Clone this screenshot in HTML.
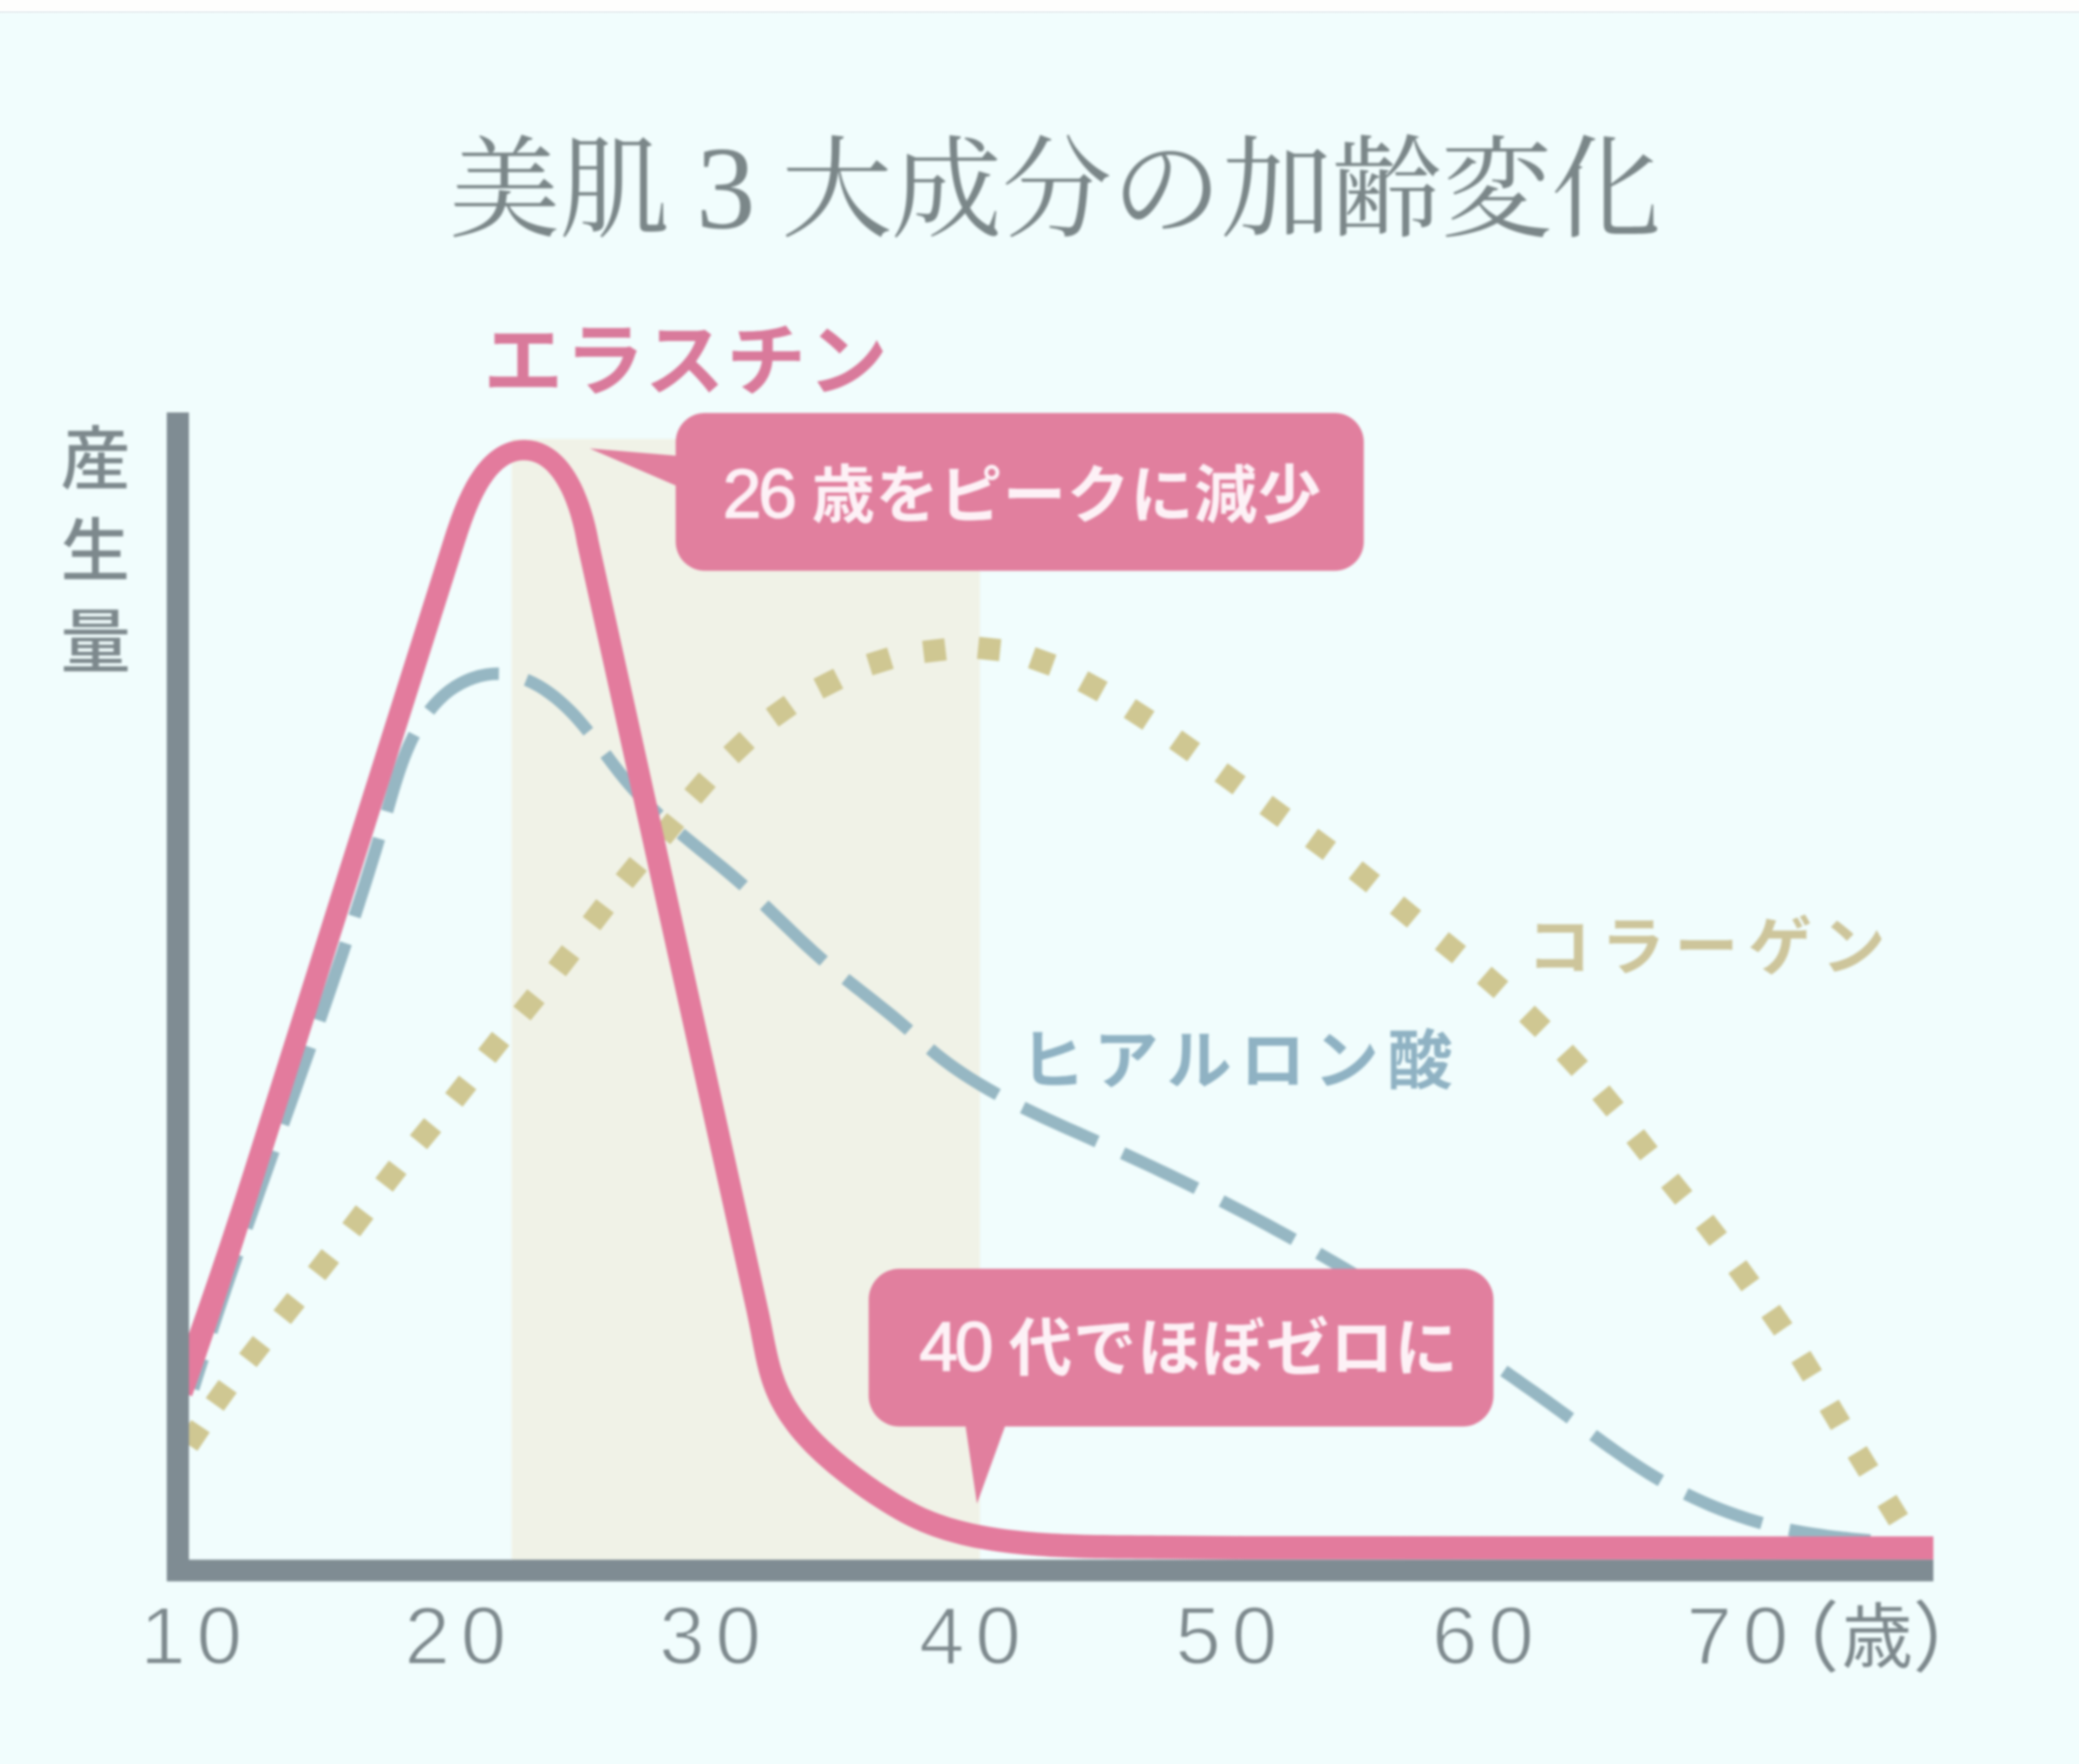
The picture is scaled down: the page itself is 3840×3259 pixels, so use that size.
<!DOCTYPE html>
<html lang="ja">
<head>
<meta charset="utf-8">
<title>美肌3大成分の加齢変化</title>
<style>
html,body{margin:0;padding:0;}
body{width:3840px;height:3259px;background:#f1fdfd;overflow:hidden;position:relative;font-family:"Liberation Sans","Noto Sans CJK JP",sans-serif;}
.topbar{position:absolute;left:0;top:0;width:3840px;height:20px;background:#fefefd;}
.topline{position:absolute;left:0;top:19px;width:3840px;height:7px;background:linear-gradient(to bottom,#fdfefe 0%,#e9eff1 45%,#f1fdfd 100%);}
#chart{position:absolute;left:0;top:0;width:3840px;height:3259px;filter:blur(2px);}
svg{position:absolute;left:0;top:0;}
.t{position:absolute;white-space:nowrap;line-height:1;}
.sans{font-family:"Liberation Sans","Noto Sans CJK JP",sans-serif;}
.serif{font-family:"Liberation Serif","Noto Serif CJK JP","Noto Serif CJK SC",serif;}
.big{font-size:1.07em;}
.num{font-weight:400;font-size:1.1em;letter-spacing:-6px;-webkit-text-stroke:2.5px #fdf1f6;}
.xl{color:#7d898d;font-size:151px;letter-spacing:20px;top:2946.0px;font-weight:400;-webkit-text-stroke:3px #f1fdfd;}
</style>
</head>
<body>
<div class="topbar"></div><div class="topline"></div>
<div id="chart">
<svg width="3840" height="3259" viewBox="0 0 3840 3259">
  <rect x="945" y="811" width="865" height="2075" fill="#f0f2e7"/>
  <path d="M356.9 2565.7C358.2 2561.7 361.9 2549.7 364.4 2541.7C366.9 2533.7 369.4 2525.7 372.0 2517.8C374.5 2509.8 377.0 2501.8 379.6 2493.8C382.2 2485.9 384.7 2477.9 387.3 2470.0C389.9 2462.0 392.5 2454.0 395.1 2446.1C397.7 2438.1 400.3 2430.2 403.0 2422.2C405.6 2414.3 408.3 2406.4 410.9 2398.4C413.6 2390.5 416.2 2382.5 418.9 2374.6C421.6 2366.7 424.3 2358.8 427.0 2350.8C429.7 2342.9 432.4 2335.0 435.1 2327.1C437.8 2319.2 440.5 2311.2 443.2 2303.3C446.0 2295.4 448.7 2287.5 451.4 2279.6C454.2 2271.7 456.9 2263.8 459.7 2255.9C462.4 2248.0 465.2 2240.1 468.0 2232.2C470.7 2224.3 473.5 2216.4 476.3 2208.5C479.0 2200.6 481.8 2192.7 484.6 2184.8C487.4 2176.9 490.2 2169.0 493.0 2161.1C495.7 2153.2 498.5 2145.3 501.3 2137.4C504.1 2129.6 506.9 2121.7 509.7 2113.8C512.5 2105.9 515.3 2098.0 518.1 2090.1C520.9 2082.2 523.7 2074.3 526.5 2066.4C529.3 2058.6 532.1 2050.7 534.9 2042.8C537.7 2034.9 540.5 2027.0 543.3 2019.1C546.0 2011.2 548.8 2003.3 551.6 1995.4C554.4 1987.5 557.2 1979.6 560.0 1971.7C562.8 1963.9 565.5 1956.0 568.3 1948.1C571.1 1940.2 573.8 1932.3 576.6 1924.4C579.4 1916.5 582.1 1908.6 584.9 1900.7C587.6 1892.8 590.4 1884.8 593.1 1876.9C595.8 1869.0 598.6 1861.1 601.3 1853.2C604.0 1845.3 606.7 1837.4 609.4 1829.5C612.2 1821.5 614.9 1813.6 617.5 1805.7C620.2 1797.8 622.9 1789.8 625.6 1781.9C628.3 1774.0 630.9 1766.0 633.6 1758.1C636.2 1750.2 638.9 1742.2 641.5 1734.3C644.1 1726.3 646.7 1718.4 649.4 1710.4C652.0 1702.5 654.5 1694.5 657.1 1686.5C659.7 1678.6 662.3 1670.6 664.8 1662.6C667.4 1654.7 669.9 1646.7 672.5 1638.7C675.0 1630.7 677.5 1622.8 680.0 1614.8C682.5 1606.8 685.0 1598.8 687.4 1590.8C689.9 1582.8 692.3 1574.8 694.8 1566.8C697.2 1558.8 699.6 1550.8 702.0 1542.7C704.4 1534.7 706.8 1526.7 709.2 1518.7C711.5 1510.6 713.9 1502.6 716.2 1494.6C718.5 1486.5 720.8 1478.5 723.2 1470.4C725.5 1462.4 727.9 1454.4 730.4 1446.4C732.9 1438.4 735.4 1430.4 738.1 1422.5C740.8 1414.6 743.6 1406.7 746.6 1398.9C749.6 1391.1 752.8 1383.3 756.2 1375.7C759.7 1368.1 763.3 1360.5 767.3 1353.1C771.3 1345.8 775.5 1338.5 780.0 1331.5C784.6 1324.5 789.4 1317.6 794.6 1311.1C799.8 1304.6 805.4 1298.2 811.3 1292.3C817.2 1286.5 823.5 1280.9 830.2 1275.9C836.9 1270.9 844.1 1266.4 851.4 1262.5C858.8 1258.6 866.5 1255.1 874.4 1252.5C882.3 1249.8 890.5 1247.6 898.7 1246.4C907.0 1245.1 915.5 1244.6 923.8 1244.9C932.1 1245.3 940.5 1246.5 948.6 1248.4C956.7 1250.3 964.7 1253.1 972.4 1256.2C980.2 1259.4 987.7 1263.2 994.9 1267.3C1002.2 1271.5 1009.2 1276.2 1015.9 1281.1C1022.7 1286.0 1029.2 1291.3 1035.5 1296.8C1041.8 1302.3 1047.9 1308.1 1053.7 1314.1C1059.6 1320.0 1065.2 1326.2 1070.7 1332.5C1076.2 1338.8 1081.5 1345.3 1086.8 1351.8C1092.0 1358.3 1097.1 1365.0 1102.2 1371.6C1107.3 1378.3 1112.3 1385.0 1117.3 1391.7C1122.3 1398.4 1127.3 1405.1 1132.4 1411.8C1137.4 1418.4 1142.5 1425.1 1147.7 1431.6C1153.0 1438.2 1158.3 1444.7 1163.8 1451.0C1169.2 1457.3 1174.9 1463.5 1180.6 1469.6C1186.4 1475.7 1192.3 1481.6 1198.3 1487.4C1204.2 1493.3 1210.4 1499.0 1216.5 1504.7C1222.7 1510.3 1229.0 1515.9 1235.3 1521.4C1241.6 1526.9 1248.0 1532.3 1254.4 1537.6C1260.8 1543.0 1267.3 1548.3 1273.8 1553.6C1280.2 1558.9 1286.7 1564.2 1293.2 1569.5C1299.8 1574.7 1306.3 1580.0 1312.8 1585.3C1319.3 1590.5 1325.8 1595.8 1332.2 1601.1C1338.7 1606.5 1345.1 1611.8 1351.5 1617.3C1357.8 1622.7 1364.2 1628.2 1370.4 1633.7C1376.7 1639.3 1382.9 1644.9 1389.0 1650.6C1395.2 1656.3 1401.3 1662.0 1407.3 1667.8C1413.4 1673.5 1419.4 1679.3 1425.4 1685.2C1431.5 1691.0 1437.5 1696.8 1443.5 1702.6C1449.5 1708.5 1455.5 1714.3 1461.5 1720.1C1467.5 1725.9 1473.6 1731.7 1479.7 1737.5C1485.8 1743.2 1491.9 1748.9 1498.1 1754.5C1504.2 1760.2 1510.5 1765.8 1516.8 1771.3C1523.1 1776.8 1529.5 1782.2 1535.9 1787.6C1542.3 1792.9 1548.8 1798.2 1555.3 1803.5C1561.8 1808.7 1568.4 1813.9 1575.0 1819.1C1581.5 1824.3 1588.1 1829.4 1594.7 1834.6C1601.3 1839.8 1607.9 1844.9 1614.5 1850.1C1621.0 1855.3 1627.6 1860.5 1634.1 1865.7C1640.6 1871.0 1647.1 1876.2 1653.6 1881.6C1660.0 1887.0 1666.4 1892.4 1672.7 1897.9C1679.0 1903.4 1685.2 1909.0 1691.4 1914.6C1697.7 1920.2 1703.8 1925.9 1710.1 1931.4C1716.4 1936.9 1722.8 1942.3 1729.3 1947.6C1735.8 1952.8 1742.4 1957.9 1749.2 1962.9C1755.9 1967.9 1762.7 1972.8 1769.6 1977.5C1776.5 1982.3 1783.5 1986.9 1790.5 1991.4C1797.6 1995.9 1804.7 2000.3 1811.9 2004.5C1819.1 2008.8 1826.4 2013.0 1833.6 2017.1C1840.9 2021.2 1848.3 2025.2 1855.7 2029.1C1863.1 2033.0 1870.5 2036.9 1878.0 2040.6C1885.5 2044.4 1893.0 2048.1 1900.5 2051.7C1908.1 2055.4 1915.6 2059.0 1923.2 2062.5C1930.8 2066.1 1938.4 2069.6 1946.0 2073.0C1953.6 2076.5 1961.2 2080.0 1968.9 2083.4C1976.5 2086.8 1984.2 2090.2 1991.8 2093.6C1999.5 2097.0 2007.1 2100.4 2014.7 2103.8C2022.4 2107.3 2030.0 2110.7 2037.7 2114.1C2045.3 2117.6 2052.9 2121.0 2060.5 2124.5C2068.1 2128.0 2075.7 2131.4 2083.3 2135.0C2090.9 2138.5 2098.5 2142.0 2106.1 2145.5C2113.7 2149.1 2121.3 2152.6 2128.9 2156.2C2136.4 2159.8 2144.0 2163.4 2151.5 2167.0C2159.1 2170.6 2166.6 2174.2 2174.1 2177.9C2181.7 2181.5 2189.2 2185.2 2196.7 2188.9C2204.2 2192.6 2211.7 2196.3 2219.2 2200.0C2226.7 2203.8 2234.2 2207.5 2241.6 2211.3C2249.1 2215.1 2256.6 2218.9 2264.0 2222.7C2271.5 2226.5 2278.9 2230.4 2286.3 2234.2C2293.7 2238.1 2301.2 2242.0 2308.6 2245.9C2316.0 2249.8 2323.4 2253.7 2330.7 2257.7C2338.1 2261.6 2345.5 2265.6 2352.8 2269.6C2360.2 2273.6 2367.5 2277.6 2374.9 2281.7C2382.2 2285.7 2389.5 2289.8 2396.8 2293.8C2404.1 2297.9 2411.4 2302.0 2418.7 2306.2C2426.0 2310.3 2433.2 2314.4 2440.5 2318.6C2447.8 2322.8 2455.0 2327.0 2462.2 2331.2C2469.5 2335.4 2476.7 2339.6 2483.9 2343.9C2491.1 2348.1 2498.3 2352.4 2505.5 2356.7C2512.7 2361.0 2519.8 2365.3 2527.0 2369.7C2534.1 2374.0 2541.3 2378.4 2548.4 2382.7C2555.6 2387.1 2562.7 2391.5 2569.8 2395.9C2576.9 2400.3 2584.0 2404.8 2591.1 2409.2C2598.2 2413.7 2605.2 2418.2 2612.3 2422.7C2619.4 2427.2 2626.4 2431.7 2633.4 2436.2C2640.5 2440.7 2647.5 2445.3 2654.5 2449.9C2661.5 2454.4 2668.5 2459.0 2675.5 2463.6C2682.5 2468.2 2689.5 2472.8 2696.5 2477.5C2703.4 2482.1 2710.4 2486.8 2717.3 2491.5C2724.3 2496.1 2731.2 2500.8 2738.1 2505.5C2745.0 2510.2 2751.9 2515.0 2758.8 2519.7C2765.7 2524.4 2772.6 2529.2 2779.5 2534.0C2786.4 2538.7 2793.2 2543.5 2800.1 2548.3C2806.9 2553.1 2813.8 2558.0 2820.6 2562.8C2827.4 2567.6 2834.3 2572.5 2841.1 2577.4C2847.9 2582.2 2854.7 2587.1 2861.5 2592.0C2868.3 2596.9 2875.0 2601.8 2881.8 2606.7C2888.6 2611.6 2895.3 2616.6 2902.1 2621.5C2908.8 2626.5 2915.6 2631.5 2922.3 2636.4C2929.0 2641.4 2935.8 2646.3 2942.5 2651.3C2949.3 2656.2 2956.1 2661.2 2962.8 2666.1C2969.6 2671.0 2976.4 2675.8 2983.3 2680.6C2990.1 2685.5 2997.0 2690.2 3003.9 2695.0C3010.8 2699.7 3017.8 2704.3 3024.8 2708.9C3031.8 2713.5 3038.9 2718.0 3046.0 2722.4C3053.1 2726.8 3060.3 2731.1 3067.5 2735.3C3074.8 2739.5 3082.1 2743.6 3089.4 2747.5C3096.8 2751.5 3104.2 2755.3 3111.7 2759.1C3119.2 2762.8 3126.8 2766.4 3134.4 2769.9C3142.0 2773.4 3149.6 2776.8 3157.3 2780.1C3165.0 2783.4 3172.8 2786.5 3180.6 2789.5C3188.4 2792.5 3196.3 2795.4 3204.2 2798.2C3212.1 2801.0 3220.0 2803.6 3228.0 2806.2C3236.0 2808.7 3244.0 2811.1 3252.0 2813.3C3260.1 2815.6 3268.2 2817.7 3276.3 2819.7C3284.4 2821.7 3292.6 2823.6 3300.8 2825.3C3309.0 2827.0 3317.2 2828.6 3325.4 2830.1C3333.7 2831.6 3341.9 2833.0 3350.2 2834.2C3358.5 2835.5 3366.8 2836.7 3375.1 2837.8C3383.4 2838.9 3391.7 2839.9 3400.0 2840.8C3408.3 2841.8 3416.6 2842.6 3425.0 2843.5C3433.3 2844.3 3441.6 2845.1 3450.0 2845.8C3458.3 2846.6 3466.6 2847.3 3475.0 2848.0C3483.3 2848.7 3495.8 2849.7 3500.0 2850.1" fill="none" stroke="#96b7c3" stroke-width="23" stroke-dasharray="151 52" stroke-dashoffset="93.0"/>
  <g fill="#cfc792">
<rect x="338.5" y="2631.5" width="41" height="41" transform="rotate(-56.2 359.0 2652.0)"/>
<rect x="388.1" y="2557.5" width="41" height="41" transform="rotate(-54.3 408.6 2578.0)"/>
<rect x="450.0" y="2476.5" width="41" height="41" transform="rotate(-52.0 470.5 2497.0)"/>
<rect x="513.5" y="2397.0" width="41" height="41" transform="rotate(-51.6 534.0 2417.5)"/>
<rect x="577.0" y="2316.0" width="41" height="41" transform="rotate(-51.9 597.5 2336.5)"/>
<rect x="640.5" y="2235.0" width="41" height="41" transform="rotate(-52.7 661.0 2255.5)"/>
<rect x="701.5" y="2152.5" width="41" height="41" transform="rotate(-52.2 722.0 2173.0)"/>
<rect x="765.5" y="2074.0" width="41" height="41" transform="rotate(-50.6 786.0 2094.5)"/>
<rect x="830.5" y="1995.5" width="41" height="41" transform="rotate(-51.7 851.0 2016.0)"/>
<rect x="891.5" y="1914.5" width="41" height="41" transform="rotate(-51.7 912.0 1935.0)"/>
<rect x="956.5" y="1836.0" width="41" height="41" transform="rotate(-51.0 977.0 1856.5)"/>
<rect x="1021.0" y="1754.5" width="41" height="41" transform="rotate(-52.4 1041.5 1775.0)"/>
<rect x="1084.5" y="1669.5" width="41" height="41" transform="rotate(-52.6 1105.0 1690.0)"/>
<rect x="1145.5" y="1591.5" width="41" height="41" transform="rotate(-50.7 1166.0 1612.0)"/>
<rect x="1214.5" y="1510.5" width="41" height="41" transform="rotate(-50.9 1235.0 1531.0)"/>
<rect x="1272.5" y="1435.5" width="41" height="41" transform="rotate(-49.1 1293.0 1456.0)"/>
<rect x="1344.5" y="1360.5" width="41" height="41" transform="rotate(-43.4 1365.0 1381.0)"/>
<rect x="1422.5" y="1293.5" width="41" height="41" transform="rotate(-35.6 1443.0 1314.0)"/>
<rect x="1509.5" y="1242.5" width="41" height="41" transform="rotate(-26.8 1530.0 1263.0)"/>
<rect x="1604.5" y="1201.5" width="41" height="41" transform="rotate(-17.3 1625.0 1222.0)"/>
<rect x="1705.5" y="1181.5" width="41" height="41" transform="rotate(-6.5 1726.0 1202.0)"/>
<rect x="1806.5" y="1178.5" width="41" height="41" transform="rotate(5.7 1827.0 1199.0)"/>
<rect x="1904.5" y="1201.5" width="41" height="41" transform="rotate(19.9 1925.0 1222.0)"/>
<rect x="1997.5" y="1247.5" width="41" height="41" transform="rotate(28.7 2018.0 1268.0)"/>
<rect x="2083.5" y="1299.5" width="41" height="41" transform="rotate(32.9 2104.0 1320.0)"/>
<rect x="2167.5" y="1357.5" width="41" height="41" transform="rotate(35.3 2188.0 1378.0)"/>
<rect x="2251.5" y="1418.5" width="41" height="41" transform="rotate(35.9 2272.0 1439.0)"/>
<rect x="2334.5" y="1478.5" width="41" height="41" transform="rotate(35.9 2355.0 1499.0)"/>
<rect x="2418.5" y="1539.5" width="41" height="41" transform="rotate(36.3 2439.0 1560.0)"/>
<rect x="2499.5" y="1599.5" width="41" height="41" transform="rotate(38.5 2520.0 1620.0)"/>
<rect x="2575.5" y="1664.5" width="41" height="41" transform="rotate(39.5 2596.0 1685.0)"/>
<rect x="2658.5" y="1730.5" width="41" height="41" transform="rotate(38.9 2679.0 1751.0)"/>
<rect x="2736.5" y="1794.5" width="41" height="41" transform="rotate(41.1 2757.0 1815.0)"/>
<rect x="2814.5" y="1866.5" width="41" height="41" transform="rotate(44.4 2835.0 1887.0)"/>
<rect x="2883.5" y="1938.5" width="41" height="41" transform="rotate(47.4 2904.0 1959.0)"/>
<rect x="2949.5" y="2013.5" width="41" height="41" transform="rotate(50.4 2970.0 2034.0)"/>
<rect x="3012.5" y="2094.5" width="41" height="41" transform="rotate(52.1 3033.0 2115.0)"/>
<rect x="3076.5" y="2176.5" width="41" height="41" transform="rotate(51.0 3097.0 2197.0)"/>
<rect x="3140.5" y="2252.5" width="41" height="41" transform="rotate(52.2 3161.0 2273.0)"/>
<rect x="3200.5" y="2336.5" width="41" height="41" transform="rotate(53.9 3221.0 2357.0)"/>
<rect x="3261.5" y="2418.5" width="41" height="41" transform="rotate(55.2 3282.0 2439.0)"/>
<rect x="3316.5" y="2503.5" width="41" height="41" transform="rotate(58.6 3337.0 2524.0)"/>
<rect x="3368.5" y="2593.5" width="41" height="41" transform="rotate(59.4 3389.0 2614.0)"/>
<rect x="3420.5" y="2679.5" width="41" height="41" transform="rotate(58.7 3441.0 2700.0)"/>
<rect x="3475.5" y="2769.5" width="41" height="41" transform="rotate(58.6 3496.0 2790.0)"/>
  </g>
  <path d="M354.7 2579.4L362.6 2557.1L370.4 2534.9L378.1 2512.8L385.6 2490.6L393.1 2468.5L400.5 2446.4L407.9 2424.4L415.1 2402.3L422.4 2380.2L429.5 2358.0L436.7 2335.8L443.8 2313.6L450.9 2291.4L458.0 2269.0L465.1 2246.6L472.3 2224.1L479.4 2201.5L486.6 2178.8L493.8 2156.0L675.8 1581.0L857.7 1006.0L860.0 998.9L862.3 991.7L864.7 984.3L867.3 976.8L869.9 969.2L872.7 961.6L875.5 954.0L878.5 946.5L881.6 939.0L884.8 931.5L888.2 924.3L891.7 917.1L895.3 910.2L899.0 903.5L902.9 897.1L906.9 891.0L911.0 885.2L915.2 879.8L919.5 874.8L924.0 870.2L928.5 866.1L933.0 862.4L937.7 859.3L942.4 856.6L947.2 854.3L952.2 852.6L957.2 851.3L962.5 850.5L967.7 850.2L975.0 850.7L981.5 851.9L987.7 854.0L993.7 856.7L999.4 860.2L1005.0 864.4L1010.4 869.3L1015.5 874.9L1020.5 881.1L1025.2 887.7L1029.7 894.9L1033.8 902.3L1037.8 910.1L1041.4 918.1L1044.7 926.1L1047.8 934.2L1050.6 942.3L1053.1 950.1L1055.3 957.8L1057.3 965.1L1059.1 972.0L1060.6 978.5L1061.9 984.3L1062.9 989.6L1063.8 994.1L1064.5 997.8L1064.9 1000.6L1065.3 1002.5L1065.6 1004.3L1222.3 1714.3L1379.1 2424.3L1381.1 2433.9L1383.0 2443.3L1384.8 2452.6L1386.6 2461.6L1388.2 2470.5L1389.9 2479.3L1391.5 2488.0L1393.2 2496.6L1394.9 2505.2L1396.7 2513.6L1398.6 2522.1L1400.7 2530.5L1402.9 2538.9L1405.3 2547.3L1408.0 2555.7L1410.9 2564.1L1414.1 2572.5L1417.7 2581.0L1421.5 2589.5L1425.8 2598.0L1430.4 2606.6L1435.5 2615.2L1441.0 2623.9L1447.0 2632.6L1453.4 2641.5L1460.3 2650.4L1467.8 2659.4L1475.8 2668.6L1484.4 2677.8L1489.6 2683.2L1495.1 2688.6L1500.8 2694.1L1506.8 2699.7L1513.0 2705.3L1519.4 2711.0L1526.0 2716.7L1532.8 2722.4L1539.8 2728.1L1546.9 2733.8L1554.2 2739.5L1561.6 2745.2L1569.1 2750.8L1576.6 2756.4L1584.3 2761.9L1592.0 2767.4L1599.8 2772.7L1607.6 2778.0L1615.4 2783.1L1623.2 2788.1L1631.0 2793.0L1638.8 2797.8L1646.5 2802.3L1654.2 2806.7L1661.8 2810.9L1669.3 2814.9L1676.7 2818.7L1684.0 2822.3L1691.2 2825.6L1701.2 2830.0L1711.4 2834.1L1721.7 2837.9L1732.2 2841.5L1742.8 2844.9L1753.5 2848.1L1764.3 2851.1L1775.3 2853.9L1786.4 2856.5L1797.6 2858.9L1808.9 2861.1L1820.3 2863.1L1831.9 2865.0L1843.5 2866.7L1855.1 2868.3L1866.9 2869.8L1878.8 2871.1L1890.7 2872.3L1902.7 2873.3L1914.7 2874.3L1926.9 2875.1L1939.0 2875.9L1951.2 2876.5L1963.5 2877.1L1975.8 2877.6L1988.2 2878.0L2000.6 2878.4L2013.0 2878.7L2025.4 2878.9L2037.8 2879.1L2050.3 2879.3L2062.8 2879.4L2075.2 2879.5L2087.7 2879.6L2100.2 2879.7L2112.6 2879.8L2125.0 2879.8L2137.4 2879.9L2149.9 2880.0L2300.0 2881.0L3571.0 2881.5L3571.0 2838.5L2300.0 2838.0L2150.1 2837.0L2137.7 2836.9L2125.3 2836.8L2112.8 2836.8L2100.4 2836.7L2088.0 2836.6L2075.6 2836.5L2063.2 2836.4L2050.8 2836.3L2038.5 2836.1L2026.2 2835.9L2013.9 2835.7L2001.7 2835.4L1989.5 2835.1L1977.4 2834.6L1965.4 2834.2L1953.4 2833.6L1941.5 2833.0L1929.7 2832.2L1917.9 2831.4L1906.3 2830.5L1894.7 2829.5L1883.2 2828.3L1871.9 2827.1L1860.6 2825.7L1849.5 2824.2L1838.5 2822.5L1827.6 2820.7L1816.9 2818.8L1806.3 2816.7L1795.8 2814.5L1785.5 2812.1L1775.3 2809.5L1765.3 2806.8L1755.4 2803.9L1745.8 2800.7L1736.3 2797.5L1726.9 2794.0L1717.8 2790.3L1708.8 2786.4L1702.5 2783.5L1695.9 2780.3L1689.2 2776.8L1682.3 2773.1L1675.3 2769.2L1668.1 2765.2L1660.9 2760.9L1653.6 2756.4L1646.2 2751.8L1638.9 2747.1L1631.4 2742.2L1624.0 2737.2L1616.6 2732.1L1609.3 2726.9L1602.0 2721.6L1594.7 2716.3L1587.6 2710.9L1580.6 2705.5L1573.7 2700.1L1566.9 2694.7L1560.3 2689.3L1553.9 2683.9L1547.7 2678.5L1541.7 2673.2L1535.9 2668.0L1530.4 2662.9L1525.1 2657.8L1520.2 2652.9L1515.6 2648.2L1507.7 2639.7L1500.5 2631.5L1493.7 2623.4L1487.5 2615.6L1481.8 2607.9L1476.6 2600.3L1471.8 2592.8L1467.3 2585.5L1463.3 2578.2L1459.6 2571.0L1456.1 2563.8L1453.0 2556.6L1450.1 2549.4L1447.5 2542.2L1445.0 2534.9L1442.7 2527.5L1440.6 2520.0L1438.6 2512.3L1436.7 2504.5L1434.9 2496.6L1433.2 2488.5L1431.4 2480.2L1429.7 2471.7L1428.0 2462.9L1426.3 2454.0L1424.5 2444.8L1422.6 2435.3L1420.6 2425.6L1418.4 2415.7L1261.7 1705.7L1104.9 995.7L1105.0 995.6L1104.6 993.6L1104.0 990.5L1103.2 986.4L1102.2 981.5L1100.9 975.7L1099.4 969.3L1097.6 962.3L1095.6 954.7L1093.3 946.7L1090.6 938.3L1087.7 929.5L1084.4 920.6L1080.8 911.5L1076.9 902.3L1072.5 893.1L1067.7 884.0L1062.6 875.0L1056.9 866.3L1050.8 857.8L1044.1 849.8L1036.8 842.2L1029.0 835.2L1020.4 828.9L1011.2 823.4L1001.3 818.9L990.8 815.6L979.6 813.5L968.3 812.8L958.9 813.2L950.0 814.5L941.4 816.6L933.2 819.4L925.3 823.0L917.9 827.2L910.8 831.9L904.0 837.2L897.7 842.9L891.6 848.9L885.9 855.4L880.5 862.1L875.3 869.2L870.5 876.4L865.8 883.9L861.4 891.6L857.2 899.4L853.2 907.4L849.4 915.4L845.7 923.5L842.3 931.7L839.0 939.8L835.9 947.9L832.9 955.9L830.1 963.9L827.4 971.7L824.8 979.3L822.4 986.8L820.1 994.0L638.1 1569.0L456.1 2144.0L448.9 2166.8L441.6 2189.4L434.4 2211.9L427.1 2234.3L419.7 2256.6L412.4 2278.8L405.0 2300.9L397.5 2322.9L390.1 2344.9L382.6 2366.9L375.1 2388.8L367.5 2410.7L359.9 2432.6L352.2 2454.5L344.6 2476.4L336.8 2498.4L329.0 2520.4L321.2 2542.5L313.3 2564.6Z" fill="#e37b9d"/>
  <rect x="308" y="762" width="41" height="2159" fill="#7f8c93"/>
  <rect x="308" y="2881.5" width="3263" height="40" fill="#7f8c93"/>
  <g fill="#e17f9e">
    <rect x="1248" y="763" width="1271" height="291.5" rx="54" ry="54"/>
    <path d="M1089 828.5 L1262 843 L1262 903 Z"/>
    <rect x="1604.5" y="2344" width="1154" height="291.5" rx="57" ry="57"/>
    <path d="M1782 2625 L1860 2625 L1804.5 2778 Z"/>
  </g>
</svg>
<div class="t serif" style="left:830.0px;top:238.0px;font-weight:400;font-size:204.7px;letter-spacing:-1.6px;color:#7b8789">美肌 <span class="big">3</span> 大成分の加齢変化</div>
<div class="t sans" style="left:112.0px;top:786.0px;font-weight:500;font-size:128.6px;letter-spacing:0.0px;color:#7d898d">産</div>
<div class="t sans" style="left:112.0px;top:955.0px;font-weight:500;font-size:127.8px;letter-spacing:0.0px;color:#7d898d">生</div>
<div class="t sans" style="left:112.0px;top:1123.0px;font-weight:500;font-size:129.2px;letter-spacing:0.0px;color:#7d898d">量</div>
<div class="t sans" style="left:893.0px;top:594.0px;font-weight:700;font-size:146.8px;letter-spacing:3.8px;color:#d97a9b">エラスチン</div>
<div class="t sans" style="left:2821.0px;top:1692.0px;font-weight:700;font-size:117.9px;letter-spacing:18.0px;color:#cdc59b">コラーゲン</div>
<div class="t sans" style="left:1884.0px;top:1900.0px;font-weight:700;font-size:120.0px;letter-spacing:16.0px;color:#8fb2c3">ヒアルロン酸</div>
<div class="t sans" style="left:1335.0px;top:848.0px;font-weight:700;font-size:116.8px;letter-spacing:0.9px;color:#fdf1f6"><span class="num">26</span> 歳をピークに減少</div>
<div class="t sans" style="left:1698.0px;top:2424.0px;font-weight:700;font-size:116.8px;letter-spacing:1.9px;color:#fdf1f6"><span class="num">40</span> 代でほぼゼロに</div>
<div class="t sans" style="left:3255.0px;top:2957.0px;font-weight:400;font-size:142.1px;letter-spacing:0.0px;color:#7d898d">（</div>
<div class="t sans" style="left:3402.0px;top:2960.0px;font-weight:400;font-size:130.8px;letter-spacing:0.0px;color:#7d898d">歳</div>
<div class="t sans" style="left:3533.0px;top:2957.0px;font-weight:400;font-size:142.1px;letter-spacing:0.0px;color:#7d898d">）</div>
<div class="t xl" style="left:259.0px">10</div>
<div class="t xl" style="left:747.0px">20</div>
<div class="t xl" style="left:1217.5px">30</div>
<div class="t xl" style="left:1697.5px">40</div>
<div class="t xl" style="left:2171.0px">50</div>
<div class="t xl" style="left:2645.0px">60</div>
<div class="t xl" style="left:3115.0px">70</div>
</div>
</body>
</html>
